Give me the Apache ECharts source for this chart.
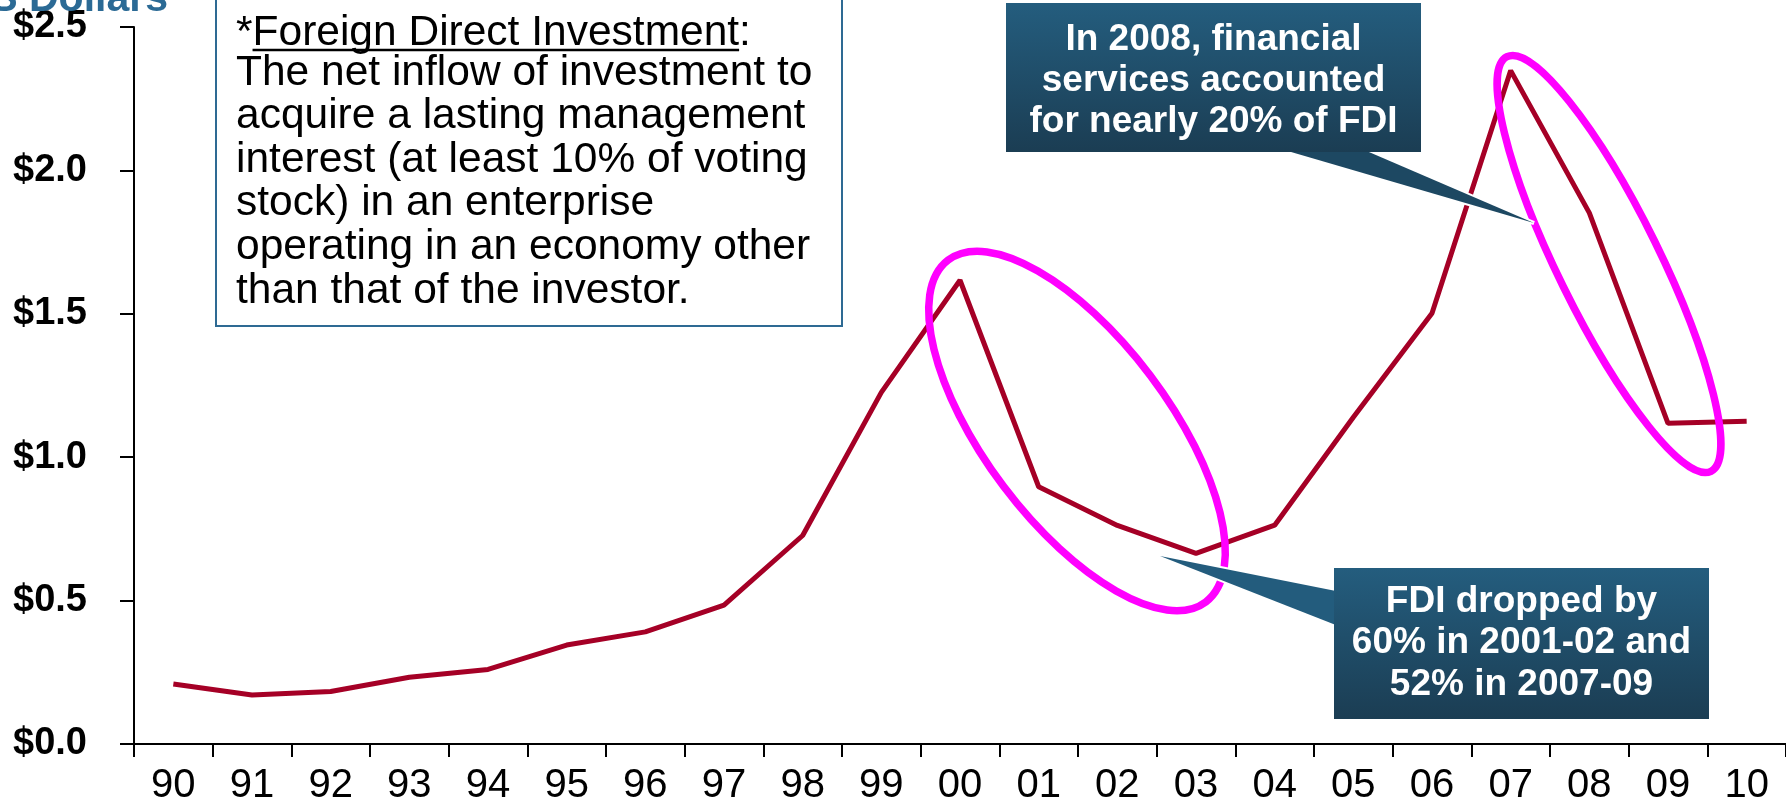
<!DOCTYPE html>
<html>
<head>
<meta charset="utf-8">
<title>Foreign Direct Investment</title>
<script src="https://cdn.jsdelivr.net/npm/echarts@6/dist/echarts.min.js"></script>
<style>
  html, body { margin: 0; padding: 0; background: #ffffff; }
  #chart { width: 1786px; height: 806px; }
</style>
</head>
<body>
<div id="chart"></div>
<script>
// Years on the category axis (two-digit labels)
const years = ['90', '91', '92', '93', '94', '95', '96', '97', '98', '99', '00',
               '01', '02', '03', '04', '05', '06', '07', '08', '09', '10'];

// FDI inflows, trillions of US dollars
const fdiInflows = [0.209, 0.171, 0.183, 0.233, 0.260, 0.345, 0.391, 0.484, 0.727, 1.226, 1.617,
                    0.897, 0.762, 0.665, 0.763, 1.139, 1.502, 2.348, 1.852, 1.118, 1.125];

// Value axis ticks
const yTicks = [0, 0.5, 1.0, 1.5, 2.0, 2.5];

// Text blocks
const axisTitle = 'Trillions of US Dollars';
const definitionTerm = 'Foreign Direct Investment';
const definitionHead = '*' + definitionTerm + ':';
const definitionBody = [
  'The net inflow of investment to',
  'acquire a lasting management',
  'interest (at least 10% of voting',
  'stock) in an enterprise',
  'operating in an economy other',
  'than that of the investor.'
];
const callout2008Lines = ['In 2008, financial', 'services accounted', 'for nearly 20% of FDI'];
const calloutDropLines = ['FDI dropped by', '60% in 2001-02 and', '52% in 2007-09'];

const FONT = '"Liberation Sans", Arial, Helvetica, sans-serif';
const LINE_RED = '#A50026';
const RING = '#FF00FF';
const BOX_BORDER = '#2E6A93';

// width of the underlined term, for drawing its underline
const DEF_SIZE = 42.5;
const DEF_X = 236;
const measureCtx = document.createElement('canvas').getContext('2d');
measureCtx.font = DEF_SIZE + 'px ' + FONT;
const starWidth = measureCtx.measureText('*').width;
const termWidth = measureCtx.measureText(definitionTerm).width;

const calloutFill = () => new echarts.graphic.LinearGradient(0, 0, 0, 1, [
  { offset: 0, color: '#245D7E' },
  { offset: 1, color: '#1B3D53' }
]);

// callout pointer: white halo underneath, solid wedge on top
function pointer(points, color) {
  return [
    { type: 'polygon', z: 69, shape: { points }, style: { fill: '#ffffff', stroke: '#ffffff', lineWidth: 4 } },
    { type: 'polygon', z: 70, shape: { points }, style: { fill: color } }
  ];
}

const chart = echarts.init(document.getElementById('chart'), null, { renderer: 'canvas' });

chart.setOption({
  animation: false,
  backgroundColor: '#ffffff',
  grid: { left: 134, right: -10, top: 27, bottom: 53, containLabel: false },
  xAxis: {
    type: 'category',
    data: years,
    boundaryGap: true,
    axisLine: { show: true, lineStyle: { color: '#000', width: 2 } },
    axisTick: { show: true, length: 13, lineStyle: { color: '#000', width: 2 } },
    axisLabel: {
      interval: 0, margin: 22, color: '#000',
      fontFamily: FONT, fontSize: 40
    },
    splitLine: { show: false }
  },
  yAxis: {
    type: 'value',
    min: yTicks[0],
    max: yTicks[yTicks.length - 1],
    interval: yTicks[1] - yTicks[0],
    axisLine: { show: true, lineStyle: { color: '#000', width: 2 } },
    axisTick: { show: true, length: 14, lineStyle: { color: '#000', width: 2 } },
    axisLabel: {
      margin: 47, color: '#000', fontFamily: FONT, fontSize: 38, fontWeight: 'bold',
      formatter: v => '$' + v.toFixed(1)
    },
    splitLine: { show: false }
  },
  series: [{
    type: 'line',
    data: fdiInflows,
    symbol: 'none',
    lineStyle: { color: LINE_RED, width: 5 },
    z: 2
  }],
  graphic: [
    // axis title, running off the top edge
    {
      type: 'text', z: 50,
      style: {
        text: axisTitle, x: 168, y: 20, align: 'right', verticalAlign: 'bottom',
        font: 'bold 41px ' + FONT, fill: '#2B6A95'
      }
    },
    // definition box
    {
      type: 'rect', z: 50,
      shape: { x: 216, y: -6, width: 626, height: 332 },
      style: { fill: '#ffffff', stroke: BOX_BORDER, lineWidth: 2 }
    },
    {
      type: 'text', z: 51,
      style: {
        text: definitionHead, x: DEF_X, y: 11,
        font: DEF_SIZE + 'px ' + FONT, fill: '#000', lineHeight: 43.6,
        align: 'left', verticalAlign: 'top'
      }
    },
    {
      type: 'line', z: 51,
      shape: { x1: DEF_X + starWidth, y1: 50, x2: DEF_X + starWidth + termWidth, y2: 50 },
      style: { stroke: '#000', lineWidth: 2.6 }
    },
    {
      type: 'text', z: 51,
      style: {
        text: definitionBody.join('\n'), x: DEF_X, y: 51,
        font: DEF_SIZE + 'px ' + FONT, fill: '#000', lineHeight: 43.6,
        align: 'left', verticalAlign: 'top'
      }
    },
    // highlight rings around the two downturns
    {
      type: 'ellipse', z: 60,
      x: 1077, y: 431, rotation: -53.0 * Math.PI / 180,
      shape: { cx: 0, cy: 0, rx: 214, ry: 92 },
      style: { fill: null, stroke: RING, lineWidth: 7.5 }
    },
    {
      type: 'ellipse', z: 60,
      x: 1609, y: 264, rotation: -63.8 * Math.PI / 180,
      shape: { cx: 0, cy: 0, rx: 231, ry: 51 },
      style: { fill: null, stroke: RING, lineWidth: 7.5 }
    },
    // callout: financial services share
    ...pointer([[1250, 140], [1341, 140], [1534, 223]], '#1D4862'),
    {
      type: 'rect', z: 71,
      shape: { x: 1006, y: 3, width: 415, height: 149 },
      style: { fill: calloutFill() }
    },
    {
      type: 'text', z: 72,
      style: {
        text: callout2008Lines.join('\n'), x: 1213.5, y: 81,
        font: 'bold 37px ' + FONT, fill: '#ffffff', lineHeight: 41,
        align: 'center', verticalAlign: 'middle'
      }
    },
    // callout: size of the drops
    ...pointer([[1346, 593], [1346, 629], [1160, 556]], '#235C7D'),
    {
      type: 'rect', z: 71,
      shape: { x: 1334, y: 568, width: 375, height: 151 },
      style: { fill: calloutFill() }
    },
    {
      type: 'text', z: 72,
      style: {
        text: calloutDropLines.join('\n'), x: 1521.5, y: 643,
        font: 'bold 37px ' + FONT, fill: '#ffffff', lineHeight: 41.6,
        align: 'center', verticalAlign: 'middle'
      }
    }
  ]
});
</script>
</body>
</html>
